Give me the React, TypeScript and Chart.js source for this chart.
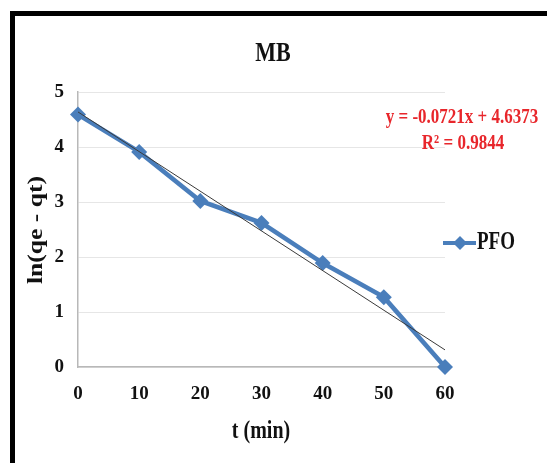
import React, { useEffect, useRef } from "react";
import { Chart, registerables } from "chart.js";

Chart.register(...registerables);

const times = [0, 10, 20, 30, 40, 50, 60];
const lnValues = [4.59, 3.91, 3.02, 2.62, 1.89, 1.27, 0.0];
const trendSlope = -0.0721;
const trendIntercept = 4.6373;
const rSquared = "0.9844";
const xTicks = [0, 10, 20, 30, 40, 50, 60];
const yTicks = [0, 1, 2, 3, 4, 5];

const SERIF = "'Liberation Serif', 'DejaVu Serif', serif";
const BLUE = "#4A7EBB";
const INK = "#111111";
const STRETCH = 1.28;

function stretchedText(ctx: any, text: string, x: number, y: number, rotate = false) {
  ctx.save();
  ctx.translate(x, y);
  if (rotate) {
    ctx.rotate(-Math.PI / 2);
    ctx.scale(STRETCH, 1);
  } else {
    ctx.scale(1, STRETCH);
  }
  ctx.fillText(text, 0, 0);
  ctx.restore();
}

const overlay = {
  id: "overlay",
  beforeDraw(chart: any) {
    const ctx = chart.ctx;
    ctx.save();
    ctx.fillStyle = "#ffffff";
    ctx.fillRect(0, 0, chart.width, chart.height);
    ctx.restore();
  },
  afterDraw(chart: any) {
    const ctx = chart.ctx;
    ctx.save();
    // frame
    ctx.fillStyle = "#000000";
    ctx.fillRect(10, 11, chart.width - 10, 5);
    ctx.fillRect(10, 11, 5, chart.height - 11);
    // title
    ctx.fillStyle = INK;
    ctx.textAlign = "center";
    ctx.textBaseline = "middle";
    ctx.font = `bold 22px ${SERIF}`;
    stretchedText(ctx, "MB", 273, 54);
    // axis titles
    ctx.font = `bold 20px ${SERIF}`;
    stretchedText(ctx, "t (min)", 261, 431);
    ctx.font = `bold 20px ${SERIF}`;
    stretchedText(ctx, "ln(qe - qt)", 37, 230, true);
    // equation
    ctx.fillStyle = "#E8262B";
    ctx.font = `bold 17px ${SERIF}`;
    const sign = trendIntercept >= 0 ? "+" : "-";
    stretchedText(ctx, `y = ${trendSlope}x ${sign} ${Math.abs(trendIntercept)}`, 462, 117);
    stretchedText(ctx, `R² = ${rSquared}`, 463, 143);
    // legend
    ctx.strokeStyle = BLUE;
    ctx.lineWidth = 4;
    ctx.beginPath();
    ctx.moveTo(443, 243);
    ctx.lineTo(476, 243);
    ctx.stroke();
    ctx.fillStyle = BLUE;
    ctx.beginPath();
    ctx.moveTo(460, 236);
    ctx.lineTo(467, 243);
    ctx.lineTo(460, 250);
    ctx.lineTo(453, 243);
    ctx.closePath();
    ctx.fill();
    ctx.fillStyle = INK;
    ctx.textAlign = "left";
    ctx.font = `bold 19px ${SERIF}`;
    stretchedText(ctx, "PFO", 477, 243);
    ctx.restore();
  },
};

export default function App() {
  const ref = useRef<HTMLCanvasElement | null>(null);
  useEffect(() => {
    if (!ref.current) return;
    const xMin = xTicks[0];
    const xMax = xTicks[xTicks.length - 1];
    const chart = new Chart(ref.current, {
      type: "line",
      data: {
        datasets: [
          {
            label: "Linear (PFO)",
            data: [
              { x: xMin, y: trendIntercept + trendSlope * xMin },
              { x: xMax, y: trendIntercept + trendSlope * xMax },
            ],
            borderColor: "#3a3a3a",
            borderWidth: 1,
            pointRadius: 0,
            order: 0,
          },
          {
            label: "PFO",
            data: times.map((t, i) => ({ x: t, y: lnValues[i] })),
            borderColor: BLUE,
            backgroundColor: BLUE,
            borderWidth: 4.5,
            pointStyle: "rectRot",
            pointRadius: 8,
            pointBorderWidth: 0,
            tension: 0,
            clip: false,
            order: 1,
          },
        ],
      },
      options: {
        responsive: false,
        animation: false,
        layout: { padding: { left: 0, right: 102, top: 92, bottom: 46 } },
        plugins: { legend: { display: false }, tooltip: { enabled: false }, title: { display: false } },
        scales: {
          x: {
            type: "linear",
            min: xMin,
            max: xMax,
            afterBuildTicks: (s: any) => {
              s.ticks = xTicks.map((v) => ({ value: v }));
            },
            afterFit: (s: any) => {
              s.height = 50;
            },
            grid: { display: false, drawTicks: false },
            border: { color: "#b8b8b8", width: 1.5 },
            ticks: {
              padding: 16,
              color: INK,
              font: { family: SERIF, size: 19, weight: "bold" },
            },
          },
          y: {
            min: 0,
            max: 5,
            afterBuildTicks: (s: any) => {
              s.ticks = yTicks.map((v) => ({ value: v }));
            },
            afterFit: (s: any) => {
              s.width = 78;
            },
            grid: { color: "#e6e6e6", lineWidth: 1, drawTicks: false },
            border: { color: "#b8b8b8", width: 1.5 },
            ticks: {
              padding: 14,
              color: INK,
              font: { family: SERIF, size: 19, weight: "bold" },
            },
          },
        },
      },
      plugins: [overlay],
    } as any);
    return () => chart.destroy();
  }, []);
  return (
    <div style={{ position: "fixed", left: 0, top: 0, width: 547, height: 463, background: "#fff" }}>
      <canvas ref={ref} width={547} height={463} style={{ display: "block" }} />
    </div>
  );
}
